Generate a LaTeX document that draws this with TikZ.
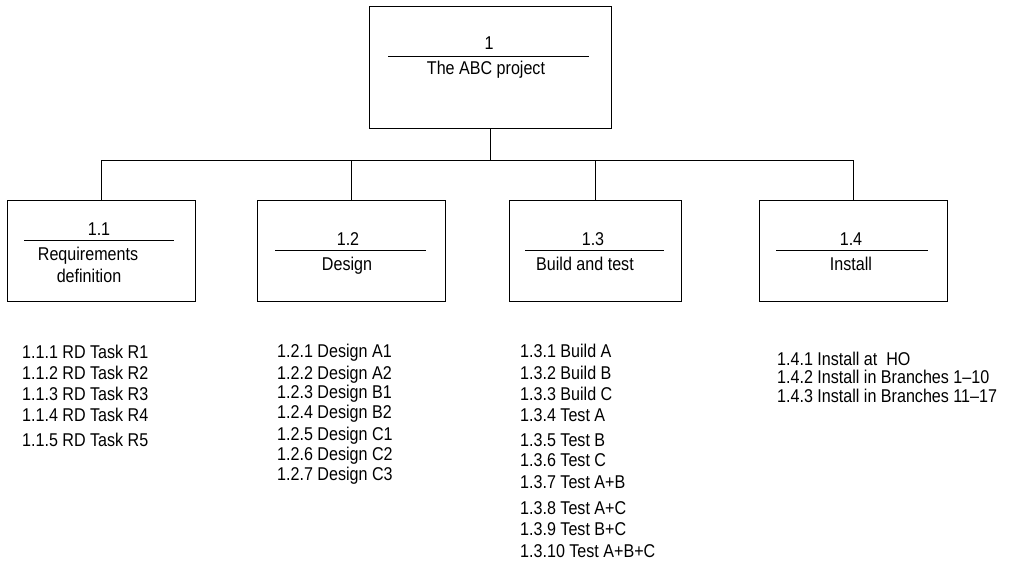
\documentclass[tikz,border=0pt]{standalone}
\usepackage{fontspec}
\setmainfont[FakeStretch=0.87]{Liberation Sans}
\begin{document}
\begin{tikzpicture}[x=1pt,y=-1pt,
  wbox/.style={draw, line width=1pt, inner sep=0pt, rectangle},
  conn/.style={draw, line width=0.9pt},
  rule/.style={draw, line width=0.9pt},
  lbl/.style={anchor=base, inner sep=0pt, font=\fontsize{18.5}{21}\selectfont},
  item/.style={anchor=base west, inner sep=0pt, font=\fontsize{18.5}{21}\selectfont}]
\useasboundingbox (0,0) rectangle (1012,564);
% boxes
\node[wbox, minimum width=242pt, minimum height=122pt] (top) at (490,68) {};
\node[wbox, minimum width=188pt, minimum height=100pt] (b1) at (101,251) {};
\node[wbox, minimum width=188pt, minimum height=100pt] (b2) at (351,251) {};
\node[wbox, minimum width=172pt, minimum height=100pt] (b3) at (595,251) {};
\node[wbox, minimum width=188pt, minimum height=100pt] (b4) at (853,251) {};
% inner rules
\draw[rule] (388,56) -- (589,56);
\draw[rule] (24,240) -- (174,240);
\draw[rule] (275,250) -- (426,250);
\draw[rule] (525,250) -- (664,250);
\draw[rule] (776,250) -- (928,250);
% box texts
\node[lbl] (t0n) at (489,50) {1};
\node[lbl] (t0t) at (486,75) {The ABC project};
\node[lbl] (t1n) at (99,236) {1.1};
\node[lbl] (t1a) at (88,261) {Requirements};
\node[lbl] (t1b) at (89,282) {definition};
\node[lbl] (t2n) at (348,246) {1.2};
\node[lbl] (t2t) at (347,270) {Design};
\node[lbl] (t3n) at (593,246) {1.3};
\node[lbl] (t3t) at (585,270) {Build and test};
\node[lbl] (t4n) at (851,246) {1.4};
\node[lbl] (t4t) at (851,270) {Install};
% connectors
\coordinate (j) at (490,160);
\draw[conn] (top.south) -- (j);
\draw[conn] (b1.north) -- (b1.north |- j) -- (b4.north |- j) -- (b4.north);
\draw[conn] (b2.north) -- (b2.north |- j);
\draw[conn] (b3.north) -- (b3.north |- j);
% lists
\node[item] (l11) at (22,358) {1.1.1 RD Task R1};
\node[item] (l12) at (22,379) {1.1.2 RD Task R2};
\node[item] (l13) at (22,400) {1.1.3 RD Task R3};
\node[item] (l14) at (22,421) {1.1.4 RD Task R4};
\node[item] (l15) at (22,446) {1.1.5 RD Task R5};
\node[item] (l21) at (277,357) {1.2.1 Design A1};
\node[item] (l22) at (277,379) {1.2.2 Design A2};
\node[item] (l23) at (277,398) {1.2.3 Design B1};
\node[item] (l24) at (277,418) {1.2.4 Design B2};
\node[item] (l25) at (277,440) {1.2.5 Design C1};
\node[item] (l26) at (277,460) {1.2.6 Design C2};
\node[item] (l27) at (277,480) {1.2.7 Design C3};
\node[item] (l31) at (520,357) {1.3.1 Build A};
\node[item] (l32) at (520,379) {1.3.2 Build B};
\node[item] (l33) at (520,400) {1.3.3 Build C};
\node[item] (l34) at (520,421) {1.3.4 Test A};
\node[item] (l35) at (520,446) {1.3.5 Test B};
\node[item] (l36) at (520,466) {1.3.6 Test C};
\node[item] (l37) at (520,488) {1.3.7 Test A+B};
\node[item] (l38) at (520,514) {1.3.8 Test A+C};
\node[item] (l39) at (520,535) {1.3.9 Test B+C};
\node[item] (l310) at (520,557) {1.3.10 Test A+B+C};
\node[item] (l41) at (777,365) {1.4.1 Install at\ \ HO};
\node[item] (l42) at (777,383) {1.4.2 Install in Branches 1--10};
\node[item] (l43) at (777,402) {1.4.3 Install in Branches 11--17};
\end{tikzpicture}
\end{document}
